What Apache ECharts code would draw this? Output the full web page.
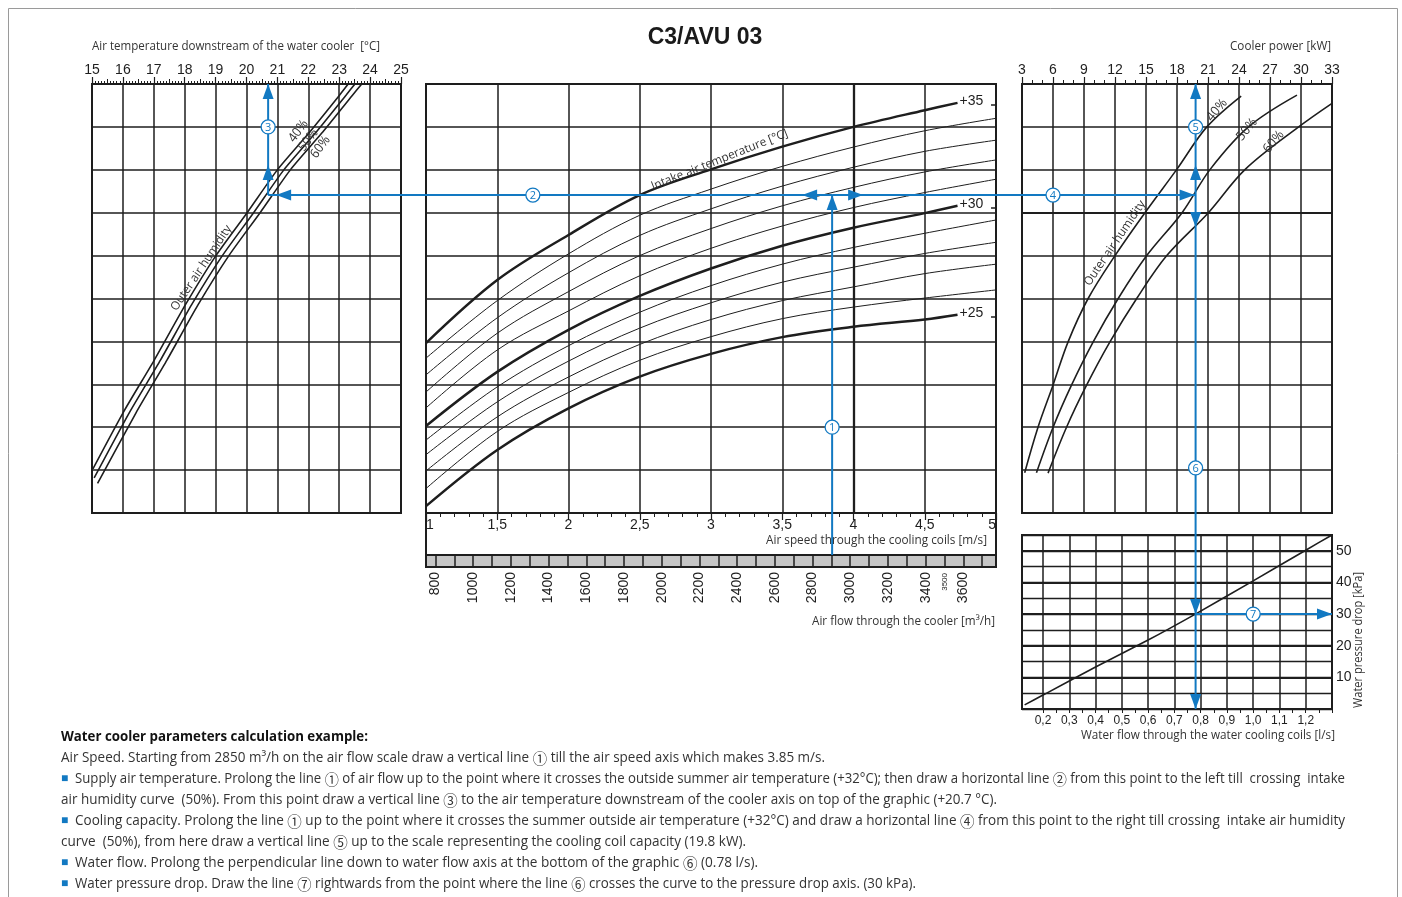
<!DOCTYPE html>
<html><head><meta charset="utf-8">
<script src="https://cdn.jsdelivr.net/npm/echarts@6/dist/echarts.min.js"></script>
<style>html,body{margin:0;padding:0;background:#fff}#c{width:1402px;height:897px}</style>
</head><body><div id="c"></div>
<script>
// ================= DATA =================
// left panel: air temperature downstream of the cooler [°C] vs. (unitless) nomogram level
const downstreamTicks = [15,16,17,18,19,20,21,22,23,24,25];
const humidity40Left = [[15.03,1.03],[16.0,2.33],[17.02,3.57],[18.02,4.85],[19.02,6.01],[20.02,7.0],[21.01,8.01],[22.01,8.85],[23.01,9.74],[23.29,10]];
const humidity50Left = [[15.07,0.82],[16.2,2.33],[17.22,3.57],[18.22,4.85],[19.23,6.01],[20.23,7.0],[21.22,8.01],[22.22,8.85],[23.22,9.74],[23.51,10]];
const humidity60Left = [[15.18,0.69],[16.42,2.33],[17.43,3.57],[18.43,4.85],[19.44,6.01],[20.44,7.0],[21.43,8.01],[22.43,8.85],[23.43,9.74],[23.73,10]];

// middle panel: air speed [m/s] and intake air temperature curves (+25 ... +35 °C)
const airSpeeds = [1, 1.5, 2, 2.5, 3, 3.5, 4, 4.5, 5];
const speedTickLabels = ['1','1,5','2','2,5','3','3,5','4','4,5','5'];
const thickCurveEndSpeed = 4.73;
const intakeTemps = [25,26,27,28,29,30,31,32,33,34,35];
const boldTemps = [25,30,35];
const t25 = [0.16,1.47,2.44,3.18,3.71,4.10,4.34,4.51,4.62];
const t26 = [0.57,1.90,2.81,3.56,4.11,4.53,4.80,5.01,5.20];
const t27 = [0.98,2.24,3.17,3.93,4.51,4.95,5.27,5.58,5.80];
const t28 = [1.36,2.59,3.54,4.31,4.90,5.38,5.73,6.05,6.31];
const t29 = [1.70,2.94,3.90,4.68,5.30,5.80,6.19,6.52,6.83];
const t30 = [2.03,3.29,4.27,5.06,5.70,6.23,6.65,6.99,7.16];
const t31 = [2.45,3.80,4.71,5.53,6.17,6.69,7.12,7.47,7.78];
const t32 = [2.82,4.19,5.16,6.00,6.63,7.16,7.59,7.95,8.23];
const t33 = [3.22,4.55,5.60,6.47,7.09,7.62,8.06,8.43,8.69];
const t34 = [3.61,4.95,6.04,6.94,7.55,8.08,8.53,8.91,9.20];
const t35 = [3.96,5.43,6.48,7.41,8.01,8.54,9.00,9.39,9.56];
const intakeCurves = [t25,t26,t27,t28,t29,t30,t31,t32,t33,t34,t35];

// air flow scale [m3/h]
const flowTickLabels = [800,1000,1200,1400,1600,1800,2000,2200,2400,2600,2800,3000,3200,3400,3600];

// right panel: cooler power [kW]
const powerTicks = [3,6,9,12,15,18,21,24,27,30,33];
const humidity40Right = [[3.26,0.94],[4.55,2.0],[6.0,2.98],[7.46,3.99],[9.4,5.0],[12.0,6.0],[14.9,7.0],[17.98,8.01],[20.89,9.0],[24.21,9.72]];
const humidity50Right = [[4.40,0.94],[6.01,2.0],[7.79,2.98],[9.89,3.99],[12.31,5.0],[15.07,6.0],[18.49,7.0],[21.21,8.01],[24.92,9.0],[29.61,9.74]];
const humidity60Right = [[5.52,0.93],[7.31,2.0],[9.25,2.98],[11.51,3.99],[14.1,5.0],[17.01,6.0],[21.04,7.0],[24.6,8.01],[29.77,9.0],[33.0,9.55]];

// bottom-right panel: water flow [l/s] vs pressure drop [kPa]
const waterFlowTickLabels = [0.2,0.3,0.4,0.5,0.6,0.7,0.8,0.9,1.0,1.1,1.2];
const pressureTickLabels = [10,20,30,40,50];
const waterFlow = [0.13,0.2,0.4,0.6,0.78,1.0,1.2,1.3];
const pressureDrop = [1.3,4.4,13.3,21.8,30,40.5,50.2,55];

// worked example
const exampleAirFlow = 2850;
const exampleAirSpeed = 3.85;
const exampleLevel = 7.41;
const exampleDownstream = 20.7;
const examplePower = 19.8;
const exampleWaterFlow = 0.78;
const examplePressure = 30;

const paragraphLines = [
  'Water cooler parameters calculation example:',
  'Air Speed. Starting from 2850 m³/h on the air flow scale draw a vertical line ① till the air speed axis which makes 3.85 m/s.',
  'Supply air temperature. Prolong the line ① of air flow up to the point where it crosses the outside summer air temperature (+32°C); then draw a horizontal line ② from this point to the left till  crossing  intake',
  'air humidity curve  (50%). From this point draw a vertical line ③ to the air temperature downstream of the cooler axis on top of the graphic (+20.7 °C).',
  'Cooling capacity. Prolong the line ① up to the point where it crosses the summer outside air temperature (+32°C) and draw a horizontal line ④ from this point to the right till crossing  intake air humidity',
  'curve  (50%), from here draw a vertical line ⑤ up to the scale representing the cooling coil capacity (19.8 kW).',
  'Water flow. Prolong the perpendicular line down to water flow axis at the bottom of the graphic ⑥ (0.78 l/s).',
  'Water pressure drop. Draw the line ⑦ rightwards from the point where the line ⑥ crosses the curve to the pressure drop axis. (30 kPa).'
];

// ================= CHART =================
const INK = '#1e1e1e';
const BLUE = '#1279c2';
const FONT = "'Liberation Sans', Arial, sans-serif";
const CFONT = "'Open Sans', 'Noto Sans', sans-serif";
const DIGITFONT = "15px 'Noto Sans CJK JP', 'DejaVu Sans', sans-serif";
const chart = echarts.init(document.getElementById('c'), null, {renderer: 'canvas', width: 1402, height: 897});

const gridLine = {show: true, lineStyle: {color: INK, width: 1.5}};
const noLine = {show: false};
const axisOff = {show: false, onZero: false};
const lbl = (extra) => Object.assign({color: INK, fontSize: 14, fontFamily: FONT}, extra);
const near = (arr, v) => arr.find(a => Math.abs(a - v) < 1e-6);

const series = [];
function addLine(xi, yi, data, width, extra) {
  series.push(Object.assign({type: 'line', xAxisIndex: xi, yAxisIndex: yi, data, symbol: 'none', silent: true,
    smooth: 0.3, lineStyle: {color: INK, width}, z: 3}, extra || {}));
}
// left
[humidity40Left, humidity50Left, humidity60Left].forEach(d => addLine(0, 0, d, 1.6, {smooth: 0.2}));
// middle
intakeCurves.forEach((vals, k) => {
  const t = intakeTemps[k];
  const bold = boldTemps.includes(t);
  const data = vals.map((v, i) => [(bold && i === vals.length - 1) ? thickCurveEndSpeed : airSpeeds[i], v]);
  const extra = {smooth: 0.35};
  if (bold) {
    extra.endLabel = {show: true, formatter: '+' + t, color: INK, fontSize: 14, fontFamily: FONT, distance: 2, offset: [0, -2]};
  }
  if (t === 35) {
    extra.markLine = {silent: true, symbol: 'none', label: {show: false}, lineStyle: {color: INK, width: 2.3, type: 'solid'}, data: [{xAxis: 4}]};
  }
  addLine(2, 1, data, bold ? 2.5 : 1.0, extra);
  if (bold) {
    const endV = vals[vals.length - 1];
    addLine(2, 1, [[4.965, endV - 0.05], [5, endV - 0.05]], 1.5, {smooth: false});
  }
});
// right
[humidity40Right, humidity50Right, humidity60Right].forEach((d, i) => addLine(6, 5, d, 1.6,
  i === 0 ? {smooth: 0.35, markLine: {silent: true, symbol: 'none', label: {show: false}, lineStyle: {color: INK, width: 2.2, type: 'solid'}, data: [{yAxis: 7}]}} : {smooth: 0.35}));
// pressure
addLine(7, 6, waterFlow.map((f, i) => [f, pressureDrop[i]]), 1.6, {smooth: 0.2});

const option = {
  animation: false,
  textStyle: {fontFamily: FONT},
  grid: [
    {left: 92, top: 84, width: 309, height: 429, show: true, borderColor: INK, borderWidth: 2},
    {left: 426, top: 84, width: 570, height: 429, show: true, borderColor: INK, borderWidth: 2},
    {left: 426, top: 513, width: 570, height: 42, show: true, borderColor: INK, borderWidth: 2},
    {left: 426, top: 555, width: 570, height: 12, show: true, borderColor: INK, borderWidth: 2, backgroundColor: '#c6c6c6'},
    {left: 435.5, top: 555, width: 546.7, height: 12, show: false},
    {left: 1022, top: 84, width: 310, height: 429, show: true, borderColor: INK, borderWidth: 2},
    {left: 1022, top: 535, width: 310, height: 174, show: true, borderColor: INK, borderWidth: 2},
    {left: 1043, top: 535, width: 289, height: 174, show: false},
    {left: 92, top: 84, width: 309, height: 429, show: false}
  ],
  xAxis: [
    {gridIndex: 0, type: 'value', position: 'top', min: 15, max: 25, interval: 1, axisLine: axisOff,
     axisTick: {show: true, length: 7, lineStyle: {color: INK, width: 1.2}},
     minorTick: {show: true, splitNumber: 10, length: 3, lineStyle: {color: INK, width: 1}},
     axisLabel: lbl({margin: 7, formatter: v => { const m = near(downstreamTicks, v); return m === undefined ? '' : String(m); }}),
     splitLine: gridLine},
    {gridIndex: 0, type: 'value', position: 'bottom', min: 15, max: 25, show: false, axisLine: axisOff},
    {gridIndex: 1, type: 'value', min: 1, max: 5, interval: 0.5, axisLine: axisOff, axisTick: noLine, axisLabel: {show: false}, splitLine: gridLine},
    {gridIndex: 2, type: 'value', position: 'top', min: 1, max: 5, interval: 0.5, axisLine: axisOff,
     axisTick: {show: true, inside: true, length: 7, lineStyle: {color: INK, width: 1.2}},
     minorTick: {show: true, splitNumber: 5, length: 4, lineStyle: {color: INK, width: 1}},
     axisLabel: lbl({inside: true, margin: 5, alignMinLabel: 'left', alignMaxLabel: 'right',
       formatter: v => { const i = airSpeeds.findIndex(s => Math.abs(s - v) < 1e-6); return i < 0 ? '' : speedTickLabels[i]; }}),
     splitLine: noLine},
    {gridIndex: 3, type: 'value', min: 0, max: 1, show: false, axisLine: axisOff},
    {gridIndex: 4, type: 'value', position: 'bottom', min: 800, max: 3700, interval: 100, axisLine: axisOff, axisTick: noLine,
     axisLabel: lbl({rotate: 90, margin: 5, formatter: v => { const m = near(flowTickLabels, v); return m === undefined ? '' : String(m); }}),
     splitLine: gridLine},
    {gridIndex: 5, type: 'value', position: 'top', min: 3, max: 33, interval: 3, axisLine: axisOff,
     axisTick: {show: true, length: 7, lineStyle: {color: INK, width: 1.2}},
     minorTick: {show: true, splitNumber: 3, length: 4, lineStyle: {color: INK, width: 1}},
     axisLabel: lbl({margin: 7, formatter: v => { const m = near(powerTicks, v); return m === undefined ? '' : String(m); }}),
     splitLine: gridLine},
    {gridIndex: 6, type: 'value', min: 0.12, max: 1.3, show: false, axisLine: axisOff},
    {gridIndex: 7, type: 'value', position: 'bottom', min: 0.2, max: 1.3, interval: 0.1, axisLine: axisOff,
     axisTick: {show: true, length: 4, lineStyle: {color: INK, width: 1}},
     minorTick: {show: true, splitNumber: 2, length: 4, lineStyle: {color: INK, width: 1}},
     axisLabel: lbl({fontSize: 12, margin: 6, formatter: v => { const m = near(waterFlowTickLabels, v); return m === undefined ? '' : m.toFixed(1).replace('.', ','); }}),
     splitLine: gridLine},
    {gridIndex: 8, type: 'value', position: 'top', min: 15, max: 25, interval: 0.5, axisLine: axisOff,
     axisTick: {show: true, length: 5, lineStyle: {color: INK, width: 1}}, axisLabel: {show: false}, splitLine: noLine}
  ],
  yAxis: [
    {gridIndex: 0, type: 'value', min: 0, max: 10, interval: 1, axisLine: axisOff, axisTick: noLine, axisLabel: {show: false}, splitLine: gridLine},
    {gridIndex: 1, type: 'value', min: 0, max: 10, interval: 1, axisLine: axisOff, axisTick: noLine, axisLabel: {show: false}, splitLine: gridLine},
    {gridIndex: 2, type: 'value', min: 0, max: 1, show: false, axisLine: axisOff},
    {gridIndex: 3, type: 'value', min: 0, max: 1, show: false, axisLine: axisOff},
    {gridIndex: 4, type: 'value', min: 0, max: 1, show: false, axisLine: axisOff},
    {gridIndex: 5, type: 'value', min: 0, max: 10, interval: 1, axisLine: axisOff, axisTick: noLine, axisLabel: {show: false}, splitLine: gridLine},
    {gridIndex: 6, type: 'value', position: 'right', min: 0, max: 55, interval: 5, axisLine: axisOff, axisTick: noLine,
     axisLabel: lbl({margin: 4, formatter: v => { const m = near(pressureTickLabels, v); return m === undefined ? '' : String(m); }}),
     splitLine: {show: true, lineStyle: {color: INK, width: 1.3}}},
    {gridIndex: 6, type: 'value', position: 'left', min: 0, max: 55, interval: 10, axisLine: axisOff, axisTick: noLine, axisLabel: {show: false},
     splitLine: {show: true, lineStyle: {color: INK, width: 2.2}}},
    {gridIndex: 7, type: 'value', min: 0, max: 55, show: false, axisLine: axisOff},
    {gridIndex: 8, type: 'value', min: 0, max: 10, show: false, axisLine: axisOff}
  ],
  series
};
chart.setOption(option);

// ================= ANNOTATIONS (placed through the axes) =================
const px = (xi, yi, pt) => chart.convertToPixel({xAxisIndex: xi, yAxisIndex: yi}, pt);
const G = [];
const mctx = document.createElement('canvas').getContext('2d');
const DIGITS = /([①-⑦])/;
function measure(text, font) { mctx.font = font; return mctx.measureText(text).width; }
function measureRich(text, font) {
  let w = 0;
  text.split(DIGITS).forEach(p => { if (p) w += measure(p, DIGITS.test(p) ? DIGITFONT : font); });
  return w;
}
function txt(o) {
  const hasDigits = DIGITS.test(o.text);
  const natural = hasDigits ? measureRich(o.text, o.font) : measure(o.text, o.font);
  const sx = o.width ? o.width / natural : 1;
  const style = {text: hasDigits ? o.text.replace(/([①-⑦])/g, '{c|$1}') : o.text, font: o.font, fill: o.fill || '#333',
    textAlign: o.align || 'left', textVerticalAlign: o.valign || 'middle'};
  if (hasDigits) style.rich = {c: {font: DIGITFONT, fill: o.fill || '#333'}};
  G.push({type: 'text', z: 110, x: o.x, y: o.y, rotation: o.rotation || 0, scaleX: sx, style});
}
function seg(p1, p2) {
  G.push({type: 'line', z: 100, shape: {x1: p1[0], y1: p1[1], x2: p2[0], y2: p2[1]}, style: {stroke: BLUE, lineWidth: 2}});
}
function arrow(tip, dir) {
  const L = 15, W = 5.5, x = tip[0], y = tip[1];
  let pts;
  if (dir === 'up') pts = [[x, y], [x - W, y + L], [x + W, y + L]];
  else if (dir === 'down') pts = [[x, y], [x - W, y - L], [x + W, y - L]];
  else if (dir === 'left') pts = [[x, y], [x + L, y - W], [x + L, y + W]];
  else pts = [[x, y], [x - L, y - W], [x - L, y + W]];
  G.push({type: 'polygon', z: 101, shape: {points: pts}, style: {fill: BLUE}});
}
function badge(c, n) {
  G.push({type: 'circle', z: 102, shape: {cx: c[0], cy: c[1], r: 7}, style: {fill: '#fff', stroke: BLUE, lineWidth: 1.3}});
  G.push({type: 'text', z: 103, x: c[0], y: c[1] + 0.5, style: {text: String(n), fill: BLUE, font: '11px ' + CFONT, textAlign: 'center', textVerticalAlign: 'middle'}});
}

const A = px(2, 1, [exampleAirSpeed, exampleLevel]);
const bandTop = px(5, 4, [800, 1])[1];
const Lpt = px(0, 0, [exampleDownstream, exampleLevel]);
const Ltop = px(0, 0, [exampleDownstream, 10]);
const Rpt = px(6, 5, [examplePower, exampleLevel]);
const Rtop = px(6, 5, [examplePower, 10]);
const Ppt = px(7, 6, [exampleWaterFlow, examplePressure]);
const Pbot = px(7, 6, [exampleWaterFlow, 0]);
const Pright = px(7, 6, [1.3, examplePressure]);

// (1)
seg([A[0], bandTop], A); arrow([A[0], A[1]], 'up'); badge(px(2, 1, [exampleAirSpeed, 2.0]), 1);
// (2)
seg(A, Lpt); arrow([A[0] - 30, A[1]], 'left'); arrow([Lpt[0] + 8, Lpt[1]], 'left'); badge(px(2, 1, [1.75, exampleLevel]), 2);
// (3)
seg(Lpt, Ltop); arrow(Ltop, 'up'); arrow([Lpt[0], Lpt[1] - 30], 'up'); badge(px(0, 0, [exampleDownstream, 9]), 3);
// (4)
seg(A, Rpt); arrow([A[0] + 31, A[1]], 'right'); arrow([Rpt[0] - 1, Rpt[1]], 'right'); badge(px(6, 5, [6, exampleLevel]), 4);
// (5)
seg(Rpt, Rtop); arrow(Rtop, 'up'); arrow([Rpt[0], Rpt[1] - 30], 'up'); badge(px(6, 5, [examplePower, 9]), 5);
// (6)
seg(Rpt, [Rpt[0], Pbot[1]]); arrow([Rpt[0], Rpt[1] + 32], 'down'); arrow([Rpt[0], Ppt[1]], 'down'); arrow([Rpt[0], Pbot[1]], 'down');
badge(px(6, 5, [examplePower, 1.05]), 6);
// (7)
seg(Ppt, Pright); arrow(Pright, 'right'); badge(px(7, 6, [1.0, examplePressure]), 7);

// outer frame and title
G.push({type: 'rect', z: 1, shape: {x: 8.5, y: 8.5, width: 1389, height: 900}, style: {fill: 'none', stroke: '#9a9a9a', lineWidth: 1}});
G.push({type: 'text', z: 110, x: 705, y: 38, style: {text: 'C3/AVU 03', font: 'bold 23px ' + FONT, fill: '#1a1a1a', textAlign: 'center', textVerticalAlign: 'middle'}});

// axis titles
txt({x: 92, y: 47, text: 'Air temperature downstream of the water cooler  [°C]', font: '12px ' + CFONT, width: 288});
txt({x: 1331, y: 47, text: 'Cooler power [kW]', font: '12px ' + CFONT, width: 101, align: 'right'});
txt({x: 987, y: 541, text: 'Air speed through the cooling coils [m/s]', font: '12px ' + CFONT, width: 221, align: 'right'});
txt({x: 995, y: 622, text: 'Air flow through the cooler [m³/h]', font: '12px ' + CFONT, width: 183, align: 'right'});
txt({x: 1335, y: 736, text: 'Water flow through the water cooling coils [l/s]', font: '12px ' + CFONT, width: 254, align: 'right'});
txt({x: 1359, y: 640, text: 'Water pressure drop [kPa]', font: '12px ' + CFONT, width: 136, align: 'center', rotation: Math.PI / 2});
const p3500 = px(5, 4, [3500, 0]);
G.push({type: 'text', z: 110, x: p3500[0], y: p3500[1] + 6, rotation: Math.PI / 2,
  style: {text: '3500', font: '8px ' + FONT, fill: INK, textAlign: 'right', textVerticalAlign: 'middle'}});

// in-panel labels
let c;
c = px(2, 1, [3.06, 8.23]); txt({x: c[0], y: c[1], text: 'Intake air temperature [°C]', font: '12px ' + CFONT, width: 146, align: 'center', rotation: 0.379});
c = px(0, 0, [18.54, 5.71]); txt({x: c[0], y: c[1], text: 'Outer air humidity', font: '12px ' + CFONT, width: 100, align: 'center', rotation: 0.983});
c = px(6, 5, [11.99, 6.29]); txt({x: c[0], y: c[1], text: 'Outer air humidity', font: '12px ' + CFONT, width: 100, align: 'center', rotation: 0.974});
[[21.68, 8.90, '40%'], [22.0, 8.69, '50%'], [22.39, 8.53, '60%']].forEach(a => {
  c = px(0, 0, [a[0], a[1]]); txt({x: c[0], y: c[1], text: a[2], font: '13px ' + CFONT, width: 24, align: 'center', rotation: 0.93});
});
[[21.86, 9.39, '40%'], [24.77, 8.94, '50%'], [27.35, 8.65, '60%']].forEach(a => {
  c = px(6, 5, [a[0], a[1]]); txt({x: c[0], y: c[1], text: a[2], font: '13px ' + CFONT, width: 25, align: 'center', rotation: 0.87});
});

// explanatory paragraph
const lineY = [737, 758, 779, 800, 821, 842, 863, 884];
const lineRight = [368, 825, 1345, 997, 1345, 746, 758, 916];
const bullet = [false, false, true, false, true, false, true, true];
paragraphLines.forEach((s, i) => {
  const x0 = bullet[i] ? 75 : 61;
  if (bullet[i]) G.push({type: 'text', z: 110, x: 61, y: lineY[i], style: {text: '■', font: '12px ' + FONT, fill: BLUE, textAlign: 'left', textVerticalAlign: 'middle'}});
  txt({x: x0, y: lineY[i], text: s, font: (i === 0 ? 'bold ' : '') + '14px ' + CFONT, width: lineRight[i] - x0, fill: i === 0 ? '#111' : '#333'});
});

chart.setOption({graphic: {elements: G}});
</script></body></html>
